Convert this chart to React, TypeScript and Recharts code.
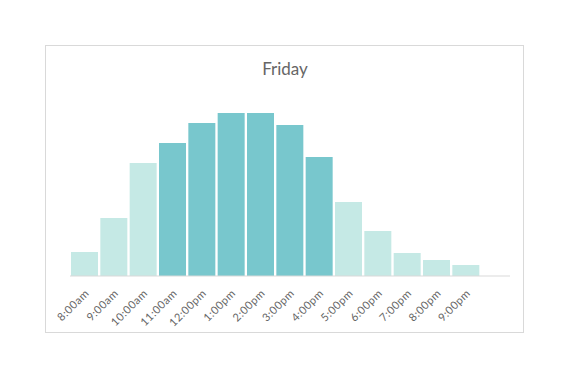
import React from 'react';
import { BarChart, Bar, XAxis, YAxis, Cell } from 'recharts';

const hours = ['8:00am', '9:00am', '10:00am', '11:00am', '12:00pm', '1:00pm', '2:00pm', '3:00pm', '4:00pm', '5:00pm', '6:00pm', '7:00pm', '8:00pm', '9:00pm', ''];
const visits = [24, 58, 113, 133, 153, 163, 163, 151, 119, 74, 45, 23, 16, 11, null];
const peak = [false, false, false, true, true, true, true, true, true, false, false, false, false, false, false];

const data = hours.map((h, i) => ({ hour: h, visits: visits[i] }));

const LIGHT = '#c5e9e5';
const DARK = '#78c7cd';

const Tick = (props: any) => {
  const { x, y, payload } = props;
  if (!payload.value) return null;
  return (
    <text
      x={x + 5}
      y={y + 10}
      transform={`rotate(-45 ${x + 5} ${y + 10})`}
      textAnchor="end"
      fontSize={11}
      letterSpacing={0.5}
      fill="#666"
      fontFamily="Lato, 'Open Sans', sans-serif"
    >
      {payload.value}
    </text>
  );
};

export default function App() {
  return (
    <div style={{ position: 'absolute', left: 0, top: 0, width: 570, height: 380, background: '#fff' }}>
      <div
        style={{
          position: 'absolute',
          left: 45,
          top: 45,
          width: 479,
          height: 288,
          border: '1px solid #d9d9d9',
          boxSizing: 'border-box',
        }}
      />
      <div
        style={{
          position: 'absolute',
          left: 0,
          width: 570,
          top: 58,
          textAlign: 'center',
          fontFamily: "Lato, 'Open Sans', sans-serif",
          fontSize: 17,
          color: '#666',
        }}
      >
        Friday
      </div>
      <div style={{ position: 'absolute', left: 0, top: 0 }}>
        <BarChart
          width={570}
          height={380}
          data={data}
          margin={{ top: 113, right: 60, bottom: 44, left: 70 }}
          barCategoryGap={1}
        >
          <XAxis
            dataKey="hour"
            interval={0}
            height={60}
            tickLine={false}
            axisLine={{ stroke: '#d9d9d9' }}
            tick={<Tick />}
          />
          <YAxis hide domain={[0, 163]} />
          <Bar dataKey="visits" isAnimationActive={false}>
            {data.map((d, i) => (
              <Cell key={d.hour + i} fill={peak[i] ? DARK : LIGHT} />
            ))}
          </Bar>
        </BarChart>
      </div>
    </div>
  );
}
